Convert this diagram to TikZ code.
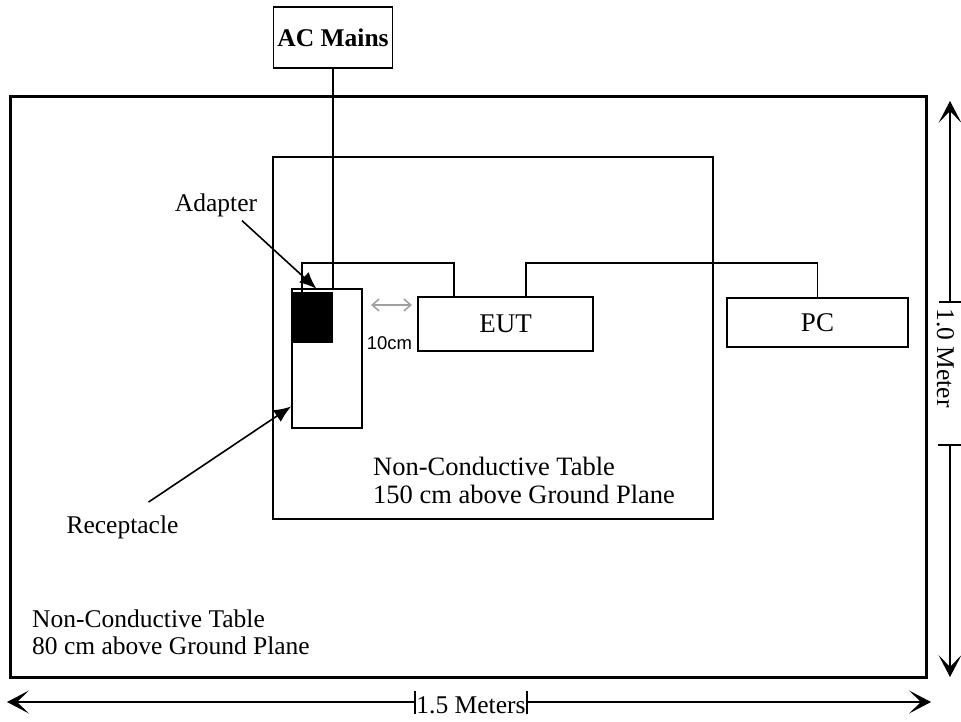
\documentclass[tikz,border=0pt]{standalone}
\usepackage{fontspec}
\setmainfont{Liberation Serif}
\newfontfamily\labelsans{Liberation Sans}
\usetikzlibrary{arrows.meta,positioning,calc}

\definecolor{gapgray}{HTML}{A0A0A0}

\tikzset{
  box/.style={draw, line width=1.8pt, inner sep=0pt, font=\fontsize{27}{29}\selectfont},
  txt/.style={inner sep=0pt, font=\fontsize{25.5}{27}\selectfont},
  cable/.style={line width=1.7pt},
  callout/.style={line width=1.6pt, -{Latex[length=17pt,width=14pt]}},
  dimline/.style={line width=1.1pt, -{Stealth[length=22pt,width=23pt,inset=12pt]}},
  gapdim/.style={draw=gapgray, line width=1.5pt,
    {Straight Barb[length=7pt,width=12pt]}-{Straight Barb[length=7pt,width=12pt]}},
}

\begin{document}
\begin{tikzpicture}[x=1pt, y=-1pt]
    \useasboundingbox (0,0) rectangle (961,722);

    % Tables
    \draw[line width=3pt] (10,97) rectangle (926,677);
    \draw[line width=1.8pt] (273,157) rectangle (713,519);
    \node[txt, anchor=north west, align=left] (lowtable) at (32,610)
        {Non-Conductive Table\\80 cm above Ground Plane};
    \node[txt, anchor=north west, align=left, font=\fontsize{26.5}{28}\selectfont] (hightable) at (373,457)
        {Non-Conductive Table\\150 cm above Ground Plane};

    % Mains, receptacle and adapter
    \node[box, font=\bfseries\fontsize{25.5}{27}\selectfont, minimum width=119pt, minimum height=61pt] (mains) at (333,37.5) {AC Mains};
    \node[box, minimum width=70pt, minimum height=139pt] (rcpt) at (327,358.5) {};
    \node[fill=black, inner sep=0pt, minimum width=41pt, minimum height=51pt] (adp) at (312.5,317.5) {};

    % Devices
    \node[box, minimum width=175pt, minimum height=54pt] (eut) at (505.5,324) {EUT};
    \node[box, minimum width=181pt, minimum height=49pt] (pc) at (817.5,322.5) {PC};

    % Cables
    \draw[cable] (mains.south) -- (mains.south |- rcpt.north);
    \draw[cable] ([xshift=10pt]adp.north west) -- ++(0,-29) -| ([xshift=37pt]eut.north west);
    \draw[cable] ([xshift=109pt]eut.north west) -- ++(0,-33) -| (pc.north);

    % Callouts
    \node[txt, anchor=base] (adlabel) at (216,212) {Adapter};
    \draw[callout] ([xshift=26pt,yshift=-3pt]adlabel.south) -- ([xshift=4pt,yshift=3pt]adp.north);
    \node[txt, anchor=base] (rclabel) at (122.5,533) {Receptacle};
    \draw[callout] ([xshift=26pt,yshift=13pt]rclabel.north) -- ([yshift=-48pt]rcpt.west);

    % 10 cm gap
    \coordinate (gapL) at (371,305);
    \coordinate (gapR) at (412,305);
    \draw[gapdim] (gapL) -- (gapR);
    \node[anchor=base, inner sep=0pt, font=\labelsans\fontsize{18.5}{20}\selectfont] (gaplabel) at (389.5,349) {10cm};

    % Width 1.5 m
    \coordinate (wL) at (7,702);
    \coordinate (wA) at (415,702);
    \coordinate (wB) at (527,702);
    \coordinate (wR) at (931,702);
    \draw[dimline] (wA) -- (wL);
    \draw[dimline] (wB) -- (wR);
    \draw[line width=1.1pt] ([yshift=11pt]wA) -- ([yshift=-12pt]wA);
    \draw[line width=1.1pt] ([yshift=11pt]wB) -- ([yshift=-12pt]wB);
    \node[txt, anchor=base] (wlabel) at (471,713) {1.5 Meters};

    % Depth 1.0 m
    \coordinate (hT) at (950,101);
    \coordinate (hA) at (950,302);
    \coordinate (hB) at (950,445);
    \coordinate (hD) at (950,677);
    \draw[dimline] (hA) -- (hT);
    \draw[dimline] (hB) -- (hD);
    \draw[line width=1.1pt] ([xshift=-11pt]hA) -- ([xshift=11pt]hA);
    \draw[line width=1.1pt] ([xshift=-12pt]hB) -- ([xshift=11pt]hB);
    \node[txt, anchor=base, rotate=-90] (hlabel) at (937,358) {1.0 Meter};
\end{tikzpicture}
\end{document}
